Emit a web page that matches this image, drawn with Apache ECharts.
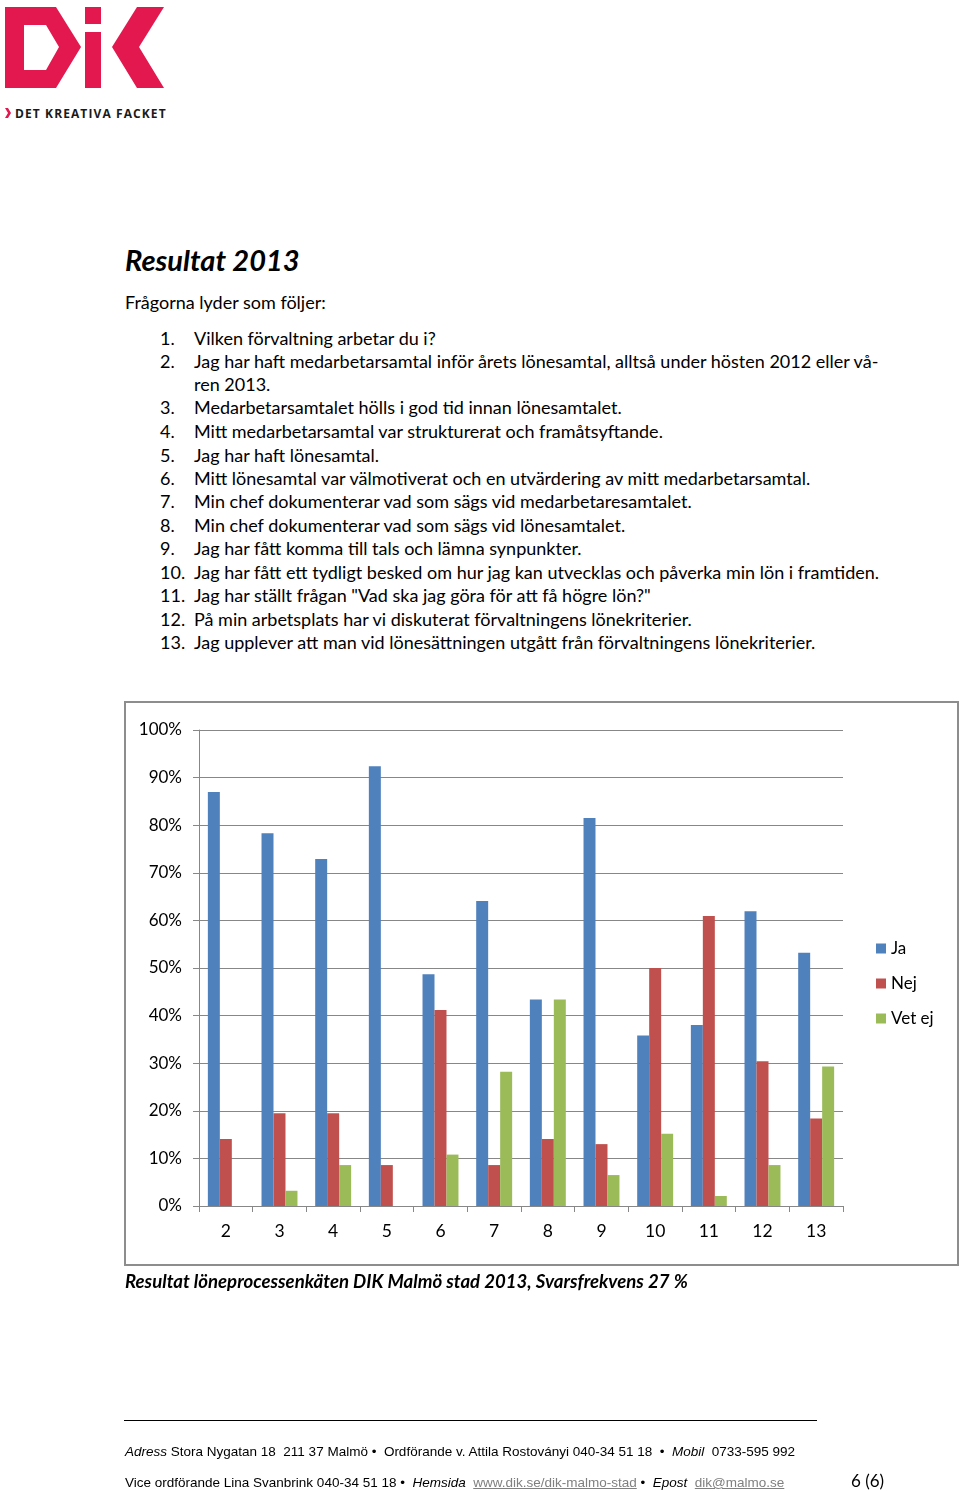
<!DOCTYPE html>
<html>
<head>
<meta charset="utf-8">
<script src="https://cdn.jsdelivr.net/npm/echarts@6/dist/echarts.min.js"></script>
<style>
  html, body { margin:0; padding:0; background:#fff; }
  #page { position:relative; width:960px; height:1491px; overflow:hidden; font-family: Lato, "Open Sans", sans-serif; color:#000; }
  .t { position:absolute; white-space:pre; line-height:20px; }
  .body { font-size:18px; }
  #chart { position:absolute; left:0; top:0; width:960px; height:1491px; }
  #frame { position:absolute; left:124px; top:701px; width:831px; height:561px; border:2px solid #8d8d8d; }
  .foot { font-family:"Liberation Sans", Arial, sans-serif; font-size:13.5px; }
  .foot a { color:#808080; text-decoration:underline; }
</style>
</head>
<body>
<div id="page">
  <svg style="position:absolute;left:0;top:0" width="180" height="125" viewBox="0 0 180 125">
    <path fill="#E2184F" fill-rule="evenodd" d="M5 7 L56 7 L81 47 L56 88 L5 88 Z M24 25 L46 25 L59 47 L46 70 L24 70 Z"/>
    <rect fill="#E2184F" x="85" y="7" width="16" height="17"/>
    <rect fill="#E2184F" x="85" y="32" width="16" height="56"/>
    <polygon fill="#E2184F" points="137,7 164,7 139,47 164,88 137,88 112,47"/>
    <polygon fill="#E2184F" points="5,108 8,108 11,113 8,118 5,118 8,113"/>
    <text x="15" y="117.5" font-family="'Open Sans', 'DejaVu Sans', sans-serif" font-weight="bold" font-size="12" letter-spacing="1.1" fill="#1a1a1a">DET KREATIVA FACKET</text>
  </svg>

  <div class="t" style="left:125px;top:244px;font-size:29px;line-height:32px;font-weight:bold;font-style:italic;">Resultat 2013</div>
  <div class="t body" style="left:125px;top:292px;">Frågorna lyder som följer:</div>
  <div id="qlist"></div>

  <div id="frame"></div>
  <div id="chart"></div>

  <div class="t" style="left:125px;top:1271px;font-size:18.6px;font-weight:bold;font-style:italic;">Resultat löneprocessenkäten DIK Malmö stad 2013, Svarsfrekvens 27 %</div>

  <div style="position:absolute;left:124px;top:1420px;width:693px;height:1px;background:#000;"></div>
  <div class="t foot" style="left:125px;top:1442px;"><i>Adress</i> Stora Nygatan 18  211 37 Malmö •  Ordförande v. Attila Rostoványi 040-34 51 18  •  <i>Mobil</i>  0733-595 992</div>
  <div class="t foot" style="left:125px;top:1473px;">Vice ordförande Lina Svanbrink 040-34 51 18 •  <i>Hemsida</i>  <a>www.dik.se/dik-malmo-stad</a> •  <i>Epost</i>  <a>dik@malmo.se</a></div>
  <div class="t" style="left:851px;top:1471px;font-size:17px;">6 (6)</div>
</div>

<script>
// ---- Data ----
const questionTexts = [
  "Vilken förvaltning arbetar du i?",
  "Jag har haft medarbetarsamtal inför årets lönesamtal, alltså under hösten 2012 eller vå-\nren 2013.",
  "Medarbetarsamtalet hölls i god tid innan lönesamtalet.",
  "Mitt medarbetarsamtal var strukturerat och framåtsyftande.",
  "Jag har haft lönesamtal.",
  "Mitt lönesamtal var välmotiverat och en utvärdering av mitt medarbetarsamtal.",
  "Min chef dokumenterar vad som sägs vid medarbetaresamtalet.",
  "Min chef dokumenterar vad som sägs vid lönesamtalet.",
  "Jag har fått komma till tals och lämna synpunkter.",
  "Jag har fått ett tydligt besked om hur jag kan utvecklas och påverka min lön i framtiden.",
  "Jag har ställt frågan \"Vad ska jag göra för att få högre lön?\"",
  "På min arbetsplats har vi diskuterat förvaltningens lönekriterier.",
  "Jag upplever att man vid lönesättningen utgått från förvaltningens lönekriterier."
];
const categories = ["2","3","4","5","6","7","8","9","10","11","12","13"];
const seriesNames = ["Ja","Nej","Vet ej"];
const jaValues    = [87.0, 78.3, 72.9, 92.4, 48.7, 64.1, 43.4, 81.5, 35.8, 38.0, 61.9, 53.2];
const nejValues   = [14.1, 19.5, 19.5,  8.6, 41.2,  8.6, 14.1, 13.0, 50.0, 60.9, 30.4, 18.4];
const vetEjValues = [ 0,    3.2,  8.6,  0,   10.8, 28.2, 43.4,  6.5, 15.2,  2.1,  8.6, 29.3];
const yTickValues = [0,10,20,30,40,50,60,70,80,90,100];

// ---- Question list ----
const lineTops = [328, 351, 397, 421, 445, 468, 491, 515, 538, 562, 585, 609, 632];
const qlist = document.getElementById('qlist');
questionTexts.forEach((q, i) => {
  const n = document.createElement('div');
  n.className = 't body';
  n.style.left = '160px'; n.style.top = lineTops[i] + 'px';
  n.textContent = (i + 1) + '.';
  qlist.appendChild(n);
  const d = document.createElement('div');
  d.className = 't body';
  d.style.left = '194px'; d.style.top = lineTops[i] + 'px';
  d.style.lineHeight = '23px';
  d.style.marginTop = '-1.5px';
  d.textContent = q;
  qlist.appendChild(d);
});

// ---- Chart ----
const colors = ['#4F81BD', '#C0504D', '#9BBB59'];
const chart = echarts.init(document.getElementById('chart'), null, { renderer: 'canvas' });
const gridColor = '#878787';
chart.setOption({
  animation: false,
  backgroundColor: 'transparent',
  color: colors,
  textStyle: { fontFamily: 'Lato, "Open Sans", sans-serif' },
  grid: { left: 199, right: 117, top: 730, bottom: 285, containLabel: false },
  legend: {
    orient: 'vertical', left: 871, top: 935,
    itemWidth: 10, itemHeight: 10, itemGap: 18,
    icon: 'rect',
    textStyle: { fontSize: 17, color: '#000', lineHeight: 17 },
    data: seriesNames
  },
  xAxis: {
    type: 'category', data: categories,
    axisLine: { show: true, lineStyle: { color: gridColor, width: 1 } },
    axisTick: { show: true, length: 6, interval: 0, alignWithLabel: false, lineStyle: { color: gridColor } },
    axisLabel: { fontSize: 17.5, color: '#000', margin: 16, interval: 0 }
  },
  yAxis: {
    type: 'value', min: 0, max: 100, interval: 10,
    axisLine: { show: true, lineStyle: { color: gridColor, width: 1 } },
    axisTick: { show: true, length: 6, lineStyle: { color: gridColor } },
    axisLabel: { fontSize: 17, color: '#000', margin: 17, formatter: v => yTickValues.includes(v) ? v + '%' : '' },
    splitLine: { show: true, lineStyle: { color: gridColor, width: 1 } }
  },
  series: [
    { name: seriesNames[0], type: 'bar', data: jaValues, barGap: '0%', barCategoryGap: '33%' },
    { name: seriesNames[1], type: 'bar', data: nejValues, barGap: '0%', barCategoryGap: '33%' },
    { name: seriesNames[2], type: 'bar', data: vetEjValues, barGap: '0%', barCategoryGap: '33%' }
  ]
});
</script>
</body>
</html>
